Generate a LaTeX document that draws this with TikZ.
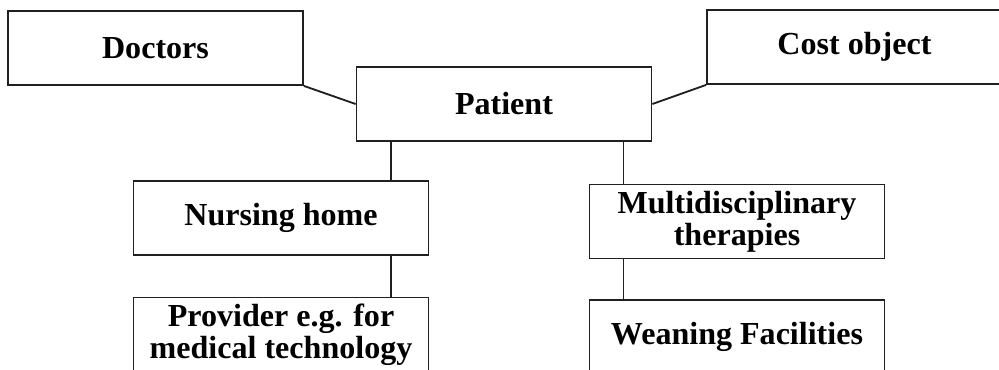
\documentclass[tikz,border=0pt]{standalone}
\usepackage{fontspec}
\setmainfont{Liberation Serif}
\usetikzlibrary{positioning,calc}
\definecolor{BoxLine}{HTML}{231F20}
\tikzset{every node/.style={font=\fontsize{22.8}{22.8}\selectfont\bfseries},
 unit/.style={draw=BoxLine,line width=1.3pt,fill=white,minimum width=295*0.025cm,
 minimum height=74*0.025cm,align=center,inner sep=1pt},
 link/.style={draw=BoxLine,line width=1.3pt}}
\begin{document}
\begin{tikzpicture}[x=0.025cm,y=-0.025cm]
\clip (0,0) rectangle (999,369);
\node[unit] (doc) at (155.5,48){Doctors};\node[unit] (cost) at (854.5,47){Cost object};
\node[unit] (pat) at (504,104){Patient};
\node[unit] (nurse) at (281,218){Nursing home};\node[unit] (multi) at (737,221.5){Multidisciplinary\\therapies};
\node[unit] (prov) at (281,334.5){Provider e.g. for\\medical technology};\node[unit] (wean) at (737,337){Weaning Facilities};
\draw[link] (doc.south east) -- (pat.west) (cost.south west) -- (pat.east);
\coordinate (pl) at ($(pat.south west)+(35,0)$);\coordinate (pr) at ($(pat.south east)+(-29,0)$);
\draw[link] (pl) -- (pl |- nurse.north) (pl |- nurse.south) -- (pl |- prov.north)
 (pr) -- (pr |- multi.north) (pr |- multi.south) -- (pr |- wean.north);
\end{tikzpicture}
\end{document}
